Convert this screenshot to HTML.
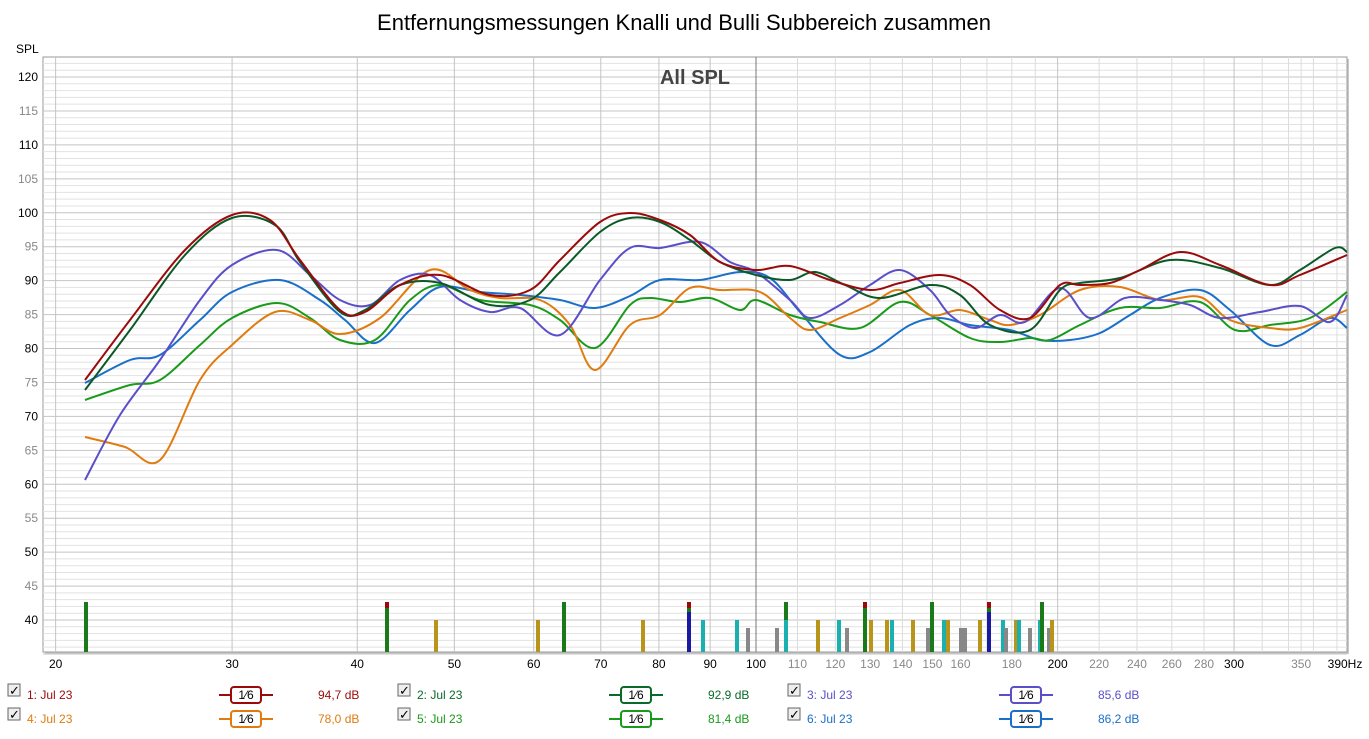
<!DOCTYPE html><html><head><meta charset="utf-8"><style>
body{margin:0;background:#fff;font-family:"Liberation Sans",sans-serif;}
svg text{font-family:"Liberation Sans",sans-serif;}
</style></head><body>
<svg id="s" width="1369" height="734" xmlns="http://www.w3.org/2000/svg">
<rect width="1369" height="734" fill="#fff"/>
<text x="684" y="30" font-size="22" text-anchor="middle" fill="#000">Entfernungsmessungen Knalli und Bulli Subbereich zusammen</text>
<text x="16" y="53" font-size="12" fill="#000">SPL</text>
<rect x="45" y="59" width="1304" height="595" fill="#c8c8c8"/>
<rect x="43" y="57" width="1304" height="595" fill="#fff" stroke="#999" stroke-width="1"/>
<g id="grid"></g>
<text x="695" y="84" font-size="20" font-weight="bold" text-anchor="middle" fill="#444">All SPL</text>
<g id="bars"></g>
<g id="curves" fill="none" stroke-width="2"></g>
<g id="labels" font-size="12"></g>
<g id="legend" font-size="12"></g>
</svg>
<script>
const NS="http://www.w3.org/2000/svg";
function el(t,a,p){const e=document.createElementNS(NS,t);for(const k in a)e.setAttribute(k,a[k]);(p||document.getElementById('s')).appendChild(e);return e;}
const X=f=>756+1002*Math.log10(f/100), Y=v=>620-(v-40)*6.7875;
const g=document.getElementById('grid'),L=document.getElementById('labels');
for(let v=35;v<=122;v++){const y=Y(v);if(y<57)continue;el('line',{x1:43,x2:1347,y1:y,y2:y,stroke:v%5==0?'#c4c4c4':'#e2e2e2','stroke-width':1},g);}
let fs=[20,30,40,50,60,70,80,90];for(let f=100;f<=200;f+=10)fs.push(f);for(let f=220;f<=380;f+=20)fs.push(f);fs.push(350);
fs.forEach(f=>{const x=X(f);const maj=[20,30,40,50,60,70,80,90,200,300].includes(f)||f<100;el('line',{x1:x,x2:x,y1:57,y2:652,stroke:f==100?'#777':(maj?'#c4c4c4':'#dcdcdc'),'stroke-width':1},g);});
for(let v=40;v<=120;v+=5){const t=el('text',{x:38,y:Y(v)+4,'text-anchor':'end',fill:v%10==0?'#000':'#888'},L);t.textContent=v;}
const xl=[[20,1],[30,1],[40,1],[50,1],[60,1],[70,1],[80,1],[90,1],[100,1],[110,0],[120,0],[130,0],[140,0],[150,0],[160,0],[180,0],[200,1],[220,0],[240,0],[260,0],[280,0],[300,1],[350,0]];
xl.forEach(([f,d])=>{const t=el('text',{x:X(f),y:668,'text-anchor':'middle',fill:d?'#000':'#888'},L);t.textContent=f;});
{const t=el('text',{x:1345,y:668,'text-anchor':'middle',fill:'#000'},L);t.textContent='390Hz';}
// bars: [x, topY, color, capColor]
const B=document.getElementById('bars');
const T={43:602,39:620,47:628,57:612};
const bars=[[86,43,'#1a7a1a'],[387,43,'#1a7a1a','#9b0a0a'],[436,39,'#b8941a'],[538,39,'#b8941a'],[564,43,'#1a7a1a'],[643,39,'#b8941a'],[689,43,'#1a7a1a','#9b0a0a'],[689,57,'#1a1aa0'],[703,39,'#1ab0b0'],[737,39,'#1ab0b0'],[748,47,'#888'],[777,47,'#888'],[786,43,'#1a7a1a'],[786,39,'#1ab0b0'],[818,39,'#b8941a'],[839,39,'#1ab0b0'],[847,47,'#888'],[865,43,'#1a7a1a','#9b0a0a'],[871,39,'#b8941a'],[887,39,'#b8941a'],[892,39,'#1ab0b0'],[913,39,'#b8941a'],[928,47,'#888'],[932,43,'#1a7a1a'],[944,39,'#1ab0b0'],[948,39,'#b8941a'],[961,47,'#888'],[965,47,'#888'],[980,39,'#b8941a'],[989,43,'#1a7a1a','#9b0a0a'],[989,57,'#1a1aa0'],[1003,39,'#1ab0b0'],[1006,47,'#888'],[1016,39,'#b8941a'],[1019,39,'#1ab0b0'],[1030,47,'#888'],[1040,39,'#1ab0b0'],[1042,43,'#1a7a1a'],[1049,47,'#888'],[1052,39,'#b8941a']];
bars.forEach(b=>{const top=T[b[1]];el('rect',{x:b[0]-2,y:top,width:4,height:652-top,fill:b[2]},B);if(b[3])el('rect',{x:b[0]-2,y:top,width:4,height:6,fill:b[3]},B);});
// curves
function cr(p){let d='M'+p[0][0]+','+p[0][1];for(let i=0;i<p.length-1;i++){const p0=p[i-1]||p[i],p1=p[i],p2=p[i+1],p3=p[i+2]||p2;d+=' C'+(p1[0]+(p2[0]-p0[0])/6)+','+(p1[1]+(p2[1]-p0[1])/6)+' '+(p2[0]-(p3[0]-p1[0])/6)+','+(p2[1]-(p3[1]-p1[1])/6)+' '+p2[0]+','+p2[1];}return d;}
const C=document.getElementById('curves');
const S=[
['#1a6fc9',[[85,383],[130,360],[160,355],[200,320],[232,292],[280,280],[320,300],[345,320],[375,343],[410,310],[440,287],[480,292],[520,295],[560,300],[595,308],[630,296],[660,280],[700,280],[740,272],[770,278],[800,312],[840,355],[870,352],[910,325],[940,318],[970,325],[1010,330],[1040,340],[1070,340],[1100,333],[1130,315],[1160,298],[1200,290],[1230,310],[1270,345],[1300,335],[1330,318],[1347,328]]],
['#1a9a1a',[[85,400],[130,385],[160,380],[200,345],[232,318],[277,303],[310,318],[340,340],[375,340],[410,300],[440,285],[480,300],[530,305],[560,320],[595,348],[630,305],[650,298],[680,302],[710,298],[740,310],[756,300],[790,315],[820,322],[860,328],[900,302],[930,315],[970,338],[1000,342],[1030,338],[1050,340],[1080,325],[1120,308],[1160,308],[1200,302],[1235,330],[1270,325],[1310,318],[1347,292]]],
['#e07b10',[[85,437],[125,447],[160,460],[200,380],[232,345],[275,312],[310,320],[340,334],[380,318],[430,270],[470,290],[500,298],[540,300],[570,325],[595,370],[630,325],[660,315],[690,288],[720,290],[760,292],[790,318],[810,330],[840,318],[870,305],[900,290],[930,315],[960,310],[990,320],[1010,325],[1040,315],[1080,290],[1120,287],[1160,300],[1200,297],[1230,320],[1270,328],[1300,328],[1347,310]]],
['#5a4fc9',[[85,480],[120,415],[160,360],[200,300],[232,265],[277,250],[310,275],[340,300],[370,305],[400,280],[430,275],[460,300],[490,312],[520,308],[560,335],[600,280],[630,248],[660,248],[700,242],[730,262],[756,272],[790,300],[810,318],[840,305],[870,285],[900,270],[930,290],[950,315],[975,328],[1000,315],[1025,322],[1060,288],[1090,318],[1125,298],[1160,300],[1190,305],[1220,318],[1260,312],[1300,306],[1330,322],[1347,295]]],
['#0a5a28',[[85,390],[130,330],[185,255],[232,218],[275,225],[300,262],[340,312],[365,310],[400,285],[440,283],[490,305],[530,300],[560,272],[600,232],[630,218],[660,222],[690,240],[720,262],[756,275],[790,280],[815,272],[845,285],[880,298],[930,285],[960,295],[990,325],[1030,330],[1060,290],[1080,283],[1120,278],[1170,260],[1220,268],[1270,285],[1300,270],[1335,248],[1347,252]]],
['#9b0a0a',[[85,380],[130,320],[185,250],[232,215],[270,220],[300,260],[340,310],[365,312],[400,285],[440,275],[490,295],[530,290],[560,260],[600,222],[630,213],[660,220],[690,235],[720,262],[756,270],[790,266],[830,280],[870,290],[900,283],[940,275],[970,285],[1000,310],[1030,318],[1060,285],[1080,285],[1110,283],[1140,270],[1180,252],[1220,265],[1270,285],[1300,275],[1347,255]]]];
S.forEach(([c,p])=>el('path',{d:cr(p),stroke:c},C));
// legend
const G=document.getElementById('legend');
const items=[[0,695,'1: Jul 23','94,7 dB','#9b0a0a'],[390,695,'2: Jul 23','92,9 dB','#0a6a28'],[780,695,'3: Jul 23','85,6 dB','#5a4fc9'],[0,719,'4: Jul 23','78,0 dB','#e07b10'],[390,719,'5: Jul 23','81,4 dB','#1a9a1a'],[780,719,'6: Jul 23','86,2 dB','#1a6fc9']];
items.forEach(([dx,y,n,v,c])=>{
el('rect',{x:dx+8,y:y-11,width:12,height:12,fill:'#eee',stroke:'#666'},G);
el('text',{x:dx+9,y:y,'font-size':13,fill:'#000'},G).textContent='✓';
el('text',{x:dx+27,y:y+4,fill:c},G).textContent=n;
el('line',{x1:dx+219,x2:dx+273,y1:y,y2:y,stroke:c,'stroke-width':2},G);
el('rect',{x:dx+231,y:y-8,width:30,height:16,rx:3,fill:'#fff',stroke:c,'stroke-width':2},G);
el('text',{x:dx+246,y:y+4,'text-anchor':'middle',fill:'#000'},G).textContent='1⁄6';
el('text',{x:dx+318,y:y+4,fill:c},G).textContent=v;});
</script>
</body></html>
